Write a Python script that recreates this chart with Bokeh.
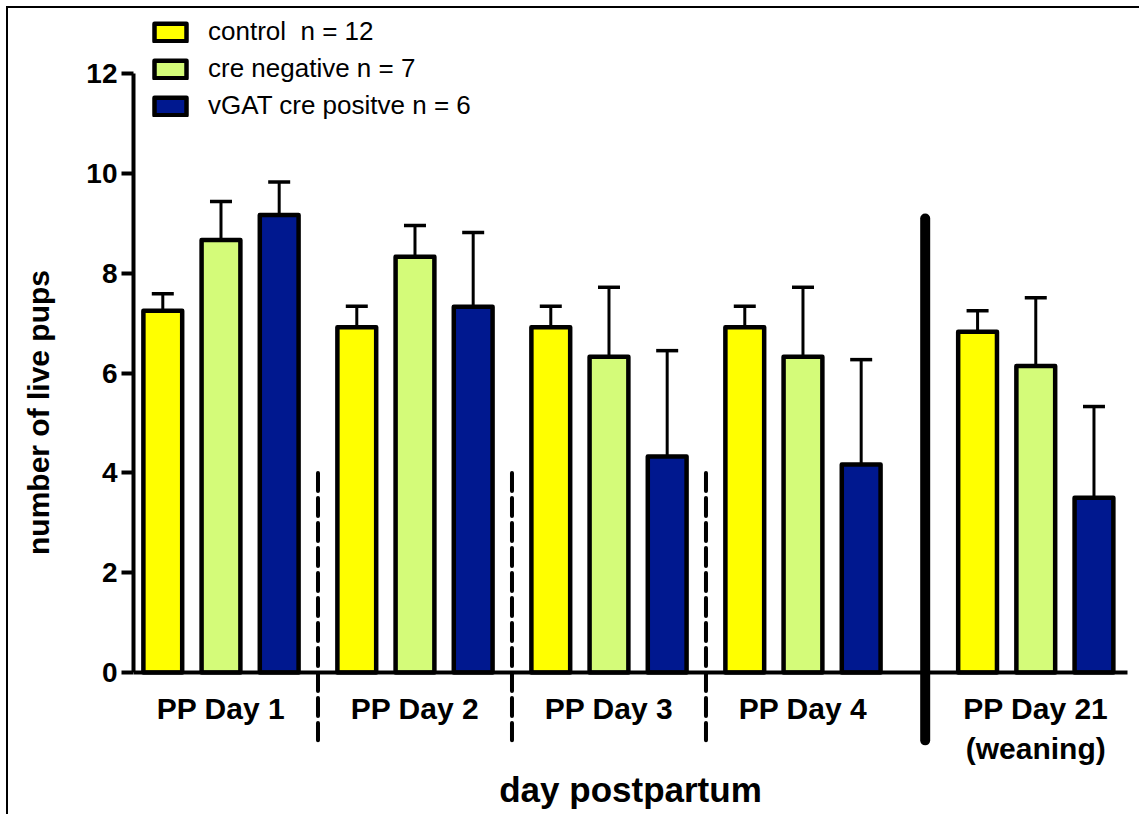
from bokeh.plotting import figure
from bokeh.models import (LinearAxis, FixedTicker, Whisker, TeeHead, ColumnDataSource,
                          Legend, LegendItem, Range1d)
from bokeh.embed import file_html
from bokeh.resources import INLINE

# ---- data ----
categories = ["PP Day 1", "PP Day 2", "PP Day 3", "PP Day 4", "PP Day 21\n(weaning)"]
series_names = ["control  n = 12", "cre negative n = 7", "vGAT cre positve n = 6"]
control = [7.25, 6.92, 6.92, 6.92, 6.83]
control_sem = [0.34, 0.42, 0.42, 0.42, 0.42]
cre_negative = [8.67, 8.33, 6.33, 6.33, 6.14]
cre_negative_sem = [0.77, 0.63, 1.39, 1.39, 1.37]
vgat_cre_positive = [9.17, 7.33, 4.33, 4.17, 3.50]
vgat_cre_positive_sem = [0.66, 1.49, 2.12, 2.10, 1.83]
y_ticks = [0, 2, 4, 6, 8, 10, 12]

# ---- layout ----
group_x = [1, 2, 3, 4, 5.2]
offsets = [-0.3, 0.0, 0.3]
colors = ["#FFFF00", "#D4FB79", "#00188F"]
FONT = "Liberation Sans"

p = figure(width=1133, height=808,
           x_range=Range1d(0.549, 5.745), y_range=Range1d(-2.886, 13.307),
           output_backend="svg", toolbar_location=None, x_axis_location=None,
           min_border_left=125, min_border_right=0, min_border_top=0, min_border_bottom=0)
p.styles = {"margin-left": "6px", "margin-top": "6px",
            "border-left": "2px solid black", "border-top": "2px solid black"}
p.grid.visible = False
p.outline_line_color = None
p.background_fill_color = "white"
p.border_fill_color = "white"

# separators
p.segment(x0=[1.5, 2.5, 3.5], y0=[4.0] * 3, x1=[1.5, 2.5, 3.5], y1=[-1.36] * 3,
          line_color="black", line_width=4, line_dash="18 7", line_cap="round")
p.segment(x0=[4.63], y0=[9.1], x1=[4.63], y1=[-1.36],
          line_color="black", line_width=10, line_cap="round")

vals = [control, cre_negative, vgat_cre_positive]
sems = [control_sem, cre_negative_sem, vgat_cre_positive_sem]
items = []
for i in range(3):
    xs = [g + offsets[i] for g in group_x]
    src = ColumnDataSource(dict(x=xs, top=vals[i],
                                upper=[v + s for v, s in zip(vals[i], sems[i])]))
    r = p.vbar(x="x", top="top", bottom=0, width=0.2, source=src,
               fill_color=colors[i], line_color="black", line_width=4.5, line_join="round")
    w = Whisker(base="x", lower="top", upper="upper", source=src, dimension="height",
                line_color="black", line_width=3,
                upper_head=TeeHead(size=22, line_width=3.5, line_color="black"),
                lower_head=None)
    p.add_layout(w)
    items.append(LegendItem(label=series_names[i], renderers=[r]))

legend = Legend(items=items, location=(17, 695), padding=0, margin=0,
                glyph_width=40, glyph_height=22, label_standoff=18, spacing=6,
                label_text_font=FONT, label_text_font_size="26px", label_height=30,
                label_text_color="black",
                border_line_color=None, background_fill_alpha=0)
p.add_layout(legend)

# y axis
ya = p.yaxis[0]
ya.ticker = FixedTicker(ticks=y_ticks)
ya.bounds = (0, 12)
ya.axis_line_width = 4
ya.axis_line_color = "black"
ya.major_tick_line_width = 4
ya.major_tick_line_color = "black"
ya.major_tick_out = 12
ya.major_tick_in = 0
ya.minor_tick_line_color = None
ya.major_label_text_font = FONT
ya.major_label_text_font_style = "bold"
ya.major_label_text_font_size = "28px"
ya.major_label_text_color = "black"
ya.major_label_standoff = 4
ya.axis_label = "number of live pups"
ya.axis_label_text_font = FONT
ya.axis_label_text_font_style = "bold"
ya.axis_label_text_font_size = "30px"
ya.axis_label_text_color = "black"
ya.axis_label_standoff = 28

# x axis at y = 0
xa = LinearAxis(fixed_location=0, ticker=FixedTicker(ticks=group_x),
                major_label_overrides={g: c for g, c in zip(group_x, categories)},
                bounds=(0.549, 5.673))
xa.axis_line_width = 4
xa.axis_line_color = "black"
xa.major_tick_line_color = None
xa.minor_tick_line_color = None
xa.major_label_text_font = FONT
xa.major_label_text_font_style = "bold"
xa.major_label_text_font_size = "30px"
xa.major_label_text_color = "black"
xa.major_label_standoff = 14
xa.axis_label = "day postpartum"
xa.axis_label_text_font = FONT
xa.axis_label_text_font_style = "bold"
xa.axis_label_text_font_size = "35px"
xa.axis_label_text_color = "black"
xa.axis_label_standoff = 2
p.add_layout(xa, "below")

open("out.html", "w").write(file_html(p, INLINE))
